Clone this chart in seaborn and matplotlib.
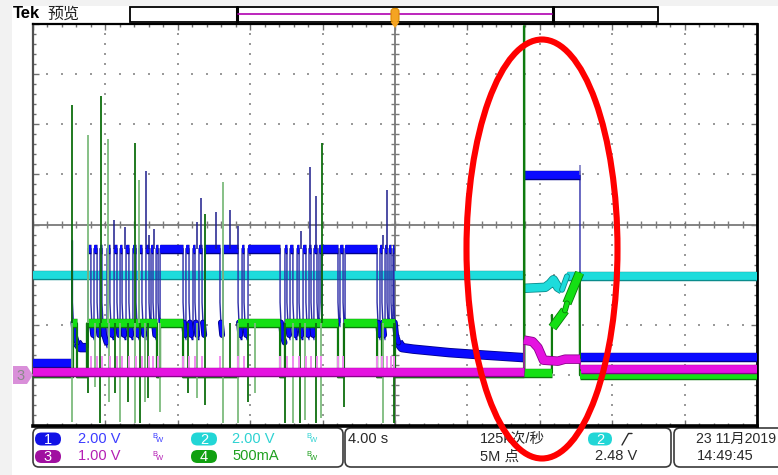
import numpy as np
import matplotlib
matplotlib.use("Agg")
import matplotlib.pyplot as plt
import seaborn as sns
from matplotlib.patches import Ellipse, FancyBboxPatch, Rectangle, Polygon
from matplotlib.collections import LineCollection
import matplotlib.patheffects as pe

# ---------------- data: time in s (4 s/div, trigger at 0), vertical in screen divisions ----------------
# CH1 (blue)
BLUE_PRE = -2.75
BLUE_HIGH = -0.48
BLUE_SPIKE0 = (-17.85, -0.32)
blue_rise = [-16.96, -16.63, -16.30, -15.91, -15.52, -15.19, -14.86, -14.48, -14.14, -13.76, -13.48, -13.20,
             -12.98, -11.55, -11.16, -10.83, -10.50, -9.50, -8.45, -8.12, -6.08, -5.80, -5.41, -5.08,
             -4.75, -4.48, -4.20, -4.03, -3.04, -2.76, -0.83, -0.55, -0.33, -0.11]
blue_fall = [-16.80, -16.46, -16.19, -15.75, -15.36, -15.08, -14.70, -14.31, -13.98, -13.59, -13.37, -13.09,
             -11.71, -11.38, -11.05, -10.66, -9.67, -8.67, -8.34, -6.35, -5.97, -5.64, -5.30, -4.92,
             -4.64, -4.31, -4.09, -3.15, -2.87, -0.99, -0.72, -0.44, -0.22, -0.06]
blue_tail_dt = [0.0, 0.05, 0.12, 0.25, 0.45]
blue_tail_v = [-1.55, -1.95, -2.2, -2.35, -2.45]
blue_post_t = [1.0, 3.0, 5.0, 7.13, 7.13, 10.22, 10.22, 20.0]
blue_post_v = [-2.48, -2.55, -2.6, -2.65, 0.98, 0.98, -2.63, -2.63]
blue_spk_t = [-15.52, -14.92, -13.77, -13.59, -13.31, -10.94, -10.72, -9.91, -9.12, -8.69,
              -5.21, -4.70, -4.36, -0.68, -0.44]
blue_spk_top = [0.08, -0.04, 1.07, -0.2, -0.08, 0.04, 0.52, 0.24, 0.28, -0.02,
                -0.12, 1.15, 0.56, -0.2, 0.68]
blue_evt_spk = (10.22, 0.98, 1.19)

# CH2 (cyan)
cyan_t = [-20.0, 7.13, 7.13, 8.3, 8.56, 8.75, 9.0, 9.23, 9.5, 20.0]
cyan_v = [-1.0, -1.0, -1.27, -1.25, -1.18, -1.1, -1.25, -1.3, -1.03, -1.03]

# CH3 (magenta)
mag_t = [-20.0, 7.13, 7.13, 7.6, 7.9, 8.2, 9.0, 9.4, 10.22, 10.25, 20.0]
mag_v = [-2.94, -2.94, -2.3, -2.33, -2.45, -2.7, -2.72, -2.68, -2.68, -2.87, -2.87]
MAG_SPK_TOP = -2.62

# CH4 (green)
GREEN_BASE = -3.04
GREEN_HIGH = -1.97
green_on = [-17.79, -17.02, -12.98, -8.67, -6.08, -2.82, -0.72]
green_off = [-17.57, -13.15, -11.71, -6.35, -3.15, -0.99, 0.0]
green_evt_t = [7.13, 7.13, 7.14, 8.67, 8.67, 8.70, 9.39, 9.50, 10.20, 10.22, 20.0]
green_evt_v = [-3.04, 3.95, -2.95, -2.95, -1.8, -2.05, -1.71, -1.57, -0.96, -3.0, -3.0]
green_up_t = [-17.85, -16.98, -16.24, -15.87, -14.38, -14.13, -10.50, -9.50, -4.03]
green_up_top = [2.37, 1.79, 2.55, 1.71, 1.63, 0.88, 0.2, 0.84, 1.63]
green_dn_t = [-17.83, -16.96, -16.57, -16.30, -15.80, -15.47, -15.19, -14.75, -14.36, -14.09, -13.81,
              -13.65, -12.98, -11.44, -10.94, -10.50, -9.50, -9.12, -8.67, -8.12, -7.73, -6.08, -5.64,
              -5.25, -4.97, -4.36, -4.09, -2.82, -0.66, -0.06]
green_dn_bot = [-3.94, -3.36, -3.24, -3.96, -3.54, -3.36, -3.94, -3.54, -3.96, -3.96, -3.54,
                -3.46, -3.74, -3.36, -3.46, -3.6, -3.96, -3.06, -3.96, -3.54, -3.36, -3.96, -3.96,
                -3.96, -3.9, -3.96, -3.86, -3.64, -3.96, -3.96]

# status bar texts
ch_labels = ["1", "2", "3", "4"]
ch_scales = ["2.00 V", "2.00 V", "1.00 V", "500mA"]
timebase = "4.00 s"
sample_rate = "125k次/秒"
record_len = "5M 点"
trig_ch = "2"
trig_level = "2.48 V"
date_str = "23 11月2019"
time_str = "14:49:45"

# ---------------- figure ----------------
sns.set_theme(style="white")
plt.rcParams["font.family"] = ["Liberation Sans", "Noto Sans CJK SC", "DejaVu Sans"]

W, H = 778, 475
fig = plt.figure(figsize=(W / 100, H / 100), dpi=100, facecolor="white")
bg = fig.add_axes([0, 0, 1, 1], zorder=0)
bg.set_xlim(0, W); bg.set_ylim(H, 0); bg.axis("off")
L, R, T, B = 33, 757, 23.5, 425.5
ax = fig.add_axes([L / W, 1 - B / H, (R - L) / W, (B - T) / H], zorder=1)
top = fig.add_axes([0, 0, 1, 1], zorder=2)
top.set_xlim(0, W); top.set_ylim(H, 0); top.axis("off")

bg.add_patch(Rectangle((0, 0), 12, H, color="#f2f2f2", lw=0))
bg.add_patch(Rectangle((0, 0), W, 6, color="#f2f2f2", lw=0))

# ---------------- graticule ----------------
ax.set_facecolor("white")
gx = np.arange(-20, 20.001, 0.8)
gy = np.arange(-4, 4.001, 0.2)
for xv in [-16, -12, -8, -4, 4, 8, 12, 16]:
    ax.scatter(np.full_like(gy, xv), gy, s=1.3, marker="s", color="#9a9a9a", lw=0, zorder=1)
for yv in [-3, -2, -1, 1, 2, 3]:
    ax.scatter(gx, np.full_like(gx, yv), s=1.3, marker="s", color="#9a9a9a", lw=0, zorder=1)
ax.axhline(0, color="#7a7a7a", lw=1.3, zorder=1)
ax.axvline(0, color="#7a7a7a", lw=1.3, zorder=1)
tk = [[(x, -0.07), (x, 0.07)] for x in gx] + [[(-0.2, y), (0.2, y)] for y in gy]
ax.add_collection(LineCollection(tk, colors="#7a7a7a", linewidths=1.0, zorder=1))

ax.set_xticks(np.arange(-20, 20.001, 4))
ax.set_xticks(gx, minor=True)
ax.set_yticks(np.arange(-4, 4.001, 1))
ax.set_yticks(gy, minor=True)
ax.tick_params(which="both", direction="in", top=True, right=True, bottom=True, left=True,
               colors="#707070", labelbottom=False, labelleft=False, width=1)
ax.tick_params(which="major", length=4)
ax.tick_params(which="minor", length=2.5)
for side, lw, c in [("top", 1.6, "black"), ("right", 2.0, "black"), ("bottom", 2.6, "black"), ("left", 1.6, "#505050")]:
    ax.spines[side].set_visible(True)
    ax.spines[side].set_linewidth(lw)
    ax.spines[side].set_color(c)


def draw_trace(t, v, main, edge, thin, z, thin_lw=1.0, thin_level=None, thin_until=None):
    t = np.asarray(t, float); v = np.asarray(v, float)
    sns.lineplot(x=t, y=v, sort=False, estimator=None, color=thin, linewidth=thin_lw, ax=ax,
                 zorder=z, legend=False)
    dt = np.diff(t); dv = np.diff(v)
    slope = np.abs(dv) / np.maximum(dt, 1e-9)
    keep = dt > 0
    if thin_level is not None:
        keep &= ~((v[:-1] == thin_level) & (v[1:] == thin_level) & (t[1:] <= thin_until))
    cls = np.zeros(len(dt), int)
    cls[(slope < 0.9) & keep] = 2
    cls[(slope >= 0.9) & (slope < 6) & keep] = 1
    for c, lw, cap in [(2, 5.6, "butt"), (1, 3.0, "round")]:
        runs = []
        i = 0
        while i < len(cls):
            if cls[i] == c:
                j = i
                while j + 1 < len(cls) and cls[j + 1] == c:
                    j += 1
                runs.append(np.column_stack([t[i:j + 2], v[i:j + 2]]))
                i = j + 1
            else:
                i += 1
        if runs:
            lc = LineCollection(runs, colors=main, linewidths=lw, capstyle=cap, joinstyle="round",
                                zorder=z + 0.1)
            lc.set_path_effects([pe.Stroke(linewidth=lw + 1.2, foreground=edge), pe.Normal()])
            ax.add_collection(lc)


# blue polyline from read pulse edges
bt = [-20.0, BLUE_SPIKE0[0], BLUE_SPIKE0[0], BLUE_SPIKE0[0] + 0.03]
bv = [BLUE_PRE, BLUE_PRE, BLUE_SPIKE0[1], BLUE_SPIKE0[1]]
last = BLUE_SPIKE0[0] + 0.03
for r, f in zip(blue_rise, blue_fall):
    for d, lv in zip(blue_tail_dt, blue_tail_v):
        if last + d < r:
            bt.append(last + d); bv.append(lv)
    bt += [r, r, f]; bv += [bv[-1], BLUE_HIGH, BLUE_HIGH]
    last = f
for d, lv in zip(blue_tail_dt, blue_tail_v):
    bt.append(last + d); bv.append(lv)
bt += blue_post_t; bv += blue_post_v

# green polyline
gt_ = [-20.0]; gv_ = [GREEN_BASE]
for a, b in zip(green_on, green_off):
    gt_ += [a, a, b, b]; gv_ += [GREEN_BASE, GREEN_HIGH, GREEN_HIGH, GREEN_BASE]
gt_ += green_evt_t; gv_ += green_evt_v

draw_trace(cyan_t, cyan_v, "#1ddcdc", "#0a8c8c", "#0a9a9a", 3)
draw_trace(bt, bv, "#0a0aff", "#00008a", "#2b2ba8", 4)
ax.vlines(blue_spk_t, BLUE_HIGH, blue_spk_top, colors="#1c1c8c", lw=1.1, zorder=4.5)
ax.vlines([blue_evt_spk[0]], blue_evt_spk[1], blue_evt_spk[2], colors="#7070c0", lw=1.1, zorder=4.5)
draw_trace(gt_, gv_, "#14e014", "#0a7a0a", "#0e7a0e", 5, thin_lw=1.6, thin_level=GREEN_BASE, thin_until=7.2)
cols = ["#0e6e0e", "#7dbb7d"]
ax.vlines(green_up_t, GREEN_HIGH, green_up_top, colors=[cols[i % 2] for i in range(len(green_up_t))],
          lw=1.3, zorder=5.5)
ax.vlines(green_dn_t, GREEN_HIGH, green_dn_bot, colors=[cols[(i + 1) % 2] for i in range(len(green_dn_t))],
          lw=1.3, zorder=5.5)
ax.vlines(blue_fall, -2.94, MAG_SPK_TOP, colors="#f08cf0", lw=1.4, zorder=6)
draw_trace(mag_t, mag_v, "#e512e0", "#8a008a", "#c010c0", 6.5)

ax.set_xlim(-20, 20)
ax.set_ylim(-4, 4)
ax.set_xlabel(""); ax.set_ylabel("")

# ---------------- header ----------------
top.text(13, 14, "Tek", fontsize=12, fontweight="bold", va="center", ha="left", color="black")
top.text(47, 14.5, "预览", fontsize=11.5, va="center", ha="left", color="#222222")
top.add_patch(Rectangle((130, 6.5), 528, 15.5, fc="white", ec="black", lw=1.3, zorder=1))
top.plot([237, 237], [7, 22], color="black", lw=2.2, zorder=2)
top.plot([553, 553], [7, 22], color="black", lw=2.2, zorder=2)
top.plot([238, 552], [14.3, 14.3], color="#b000b0", lw=1.2, zorder=2)
top.add_patch(FancyBboxPatch((391, 8.5), 8, 14, boxstyle="round,pad=0,rounding_size=3",
                             fc="#f5a422", ec="#d88a00", lw=0.8, zorder=3))
top.add_patch(Polygon([(390.5, 22), (399.5, 22), (395, 28)], closed=True, fc="#f5a422", ec="none", zorder=3))

# ch3 ground marker
top.add_patch(Polygon([(13, 366), (27, 366), (33, 375), (27, 384), (13, 384)], closed=True,
                      fc="#d98fd9", ec="none", zorder=3))
top.text(20.5, 375.5, "3", fontsize=10.5, color="#8a8a8a", ha="center", va="center", zorder=4)

# ---------------- status bar ----------------
def rbox(x0, y0, x1, y1):
    bg.add_patch(FancyBboxPatch((x0, y0), x1 - x0, y1 - y0, boxstyle="round,pad=0,rounding_size=6",
                                fc="white", ec="#3a3a3a", lw=1.2))


def badge(cx, cy, num, color, w=26):
    bg.add_patch(FancyBboxPatch((cx - w / 2, cy - 6.5), w, 13, boxstyle="round,pad=0,rounding_size=6.5",
                                fc=color, ec="none"))
    bg.text(cx, cy + 0.5, num, color="white", fontsize=10.5, ha="center", va="center")


def bw(x, y, c):
    bg.text(x, y - 2, "B", fontsize=5.5, color=c, ha="left", va="center")
    bg.text(x + 3.8, y + 1.8, "W", fontsize=5.5, color=c, ha="left", va="center")


rbox(33, 428, 343, 467)
rbox(345, 428, 671, 467)
rbox(674, 428, 792, 467)
y1, y2 = 439, 456.5
badge_cols = ["#1212e6", "#22d6d6", "#a010a0", "#10a010"]
text_cols = ["#3c3cff", "#2ed2d2", "#b41eb4", "#1ea01e"]
pos = [(48, 78, 152, y1), (204, 232, 306, y1), (48, 78, 152, y2), (204, 232, 306, y2)]
for i, (bx, tx, wx, yy) in enumerate(pos):
    badge(bx, yy, ch_labels[i], badge_cols[i])
    bg.text(tx, yy, ch_scales[i], fontsize=10.5, color=text_cols[i], ha="left", va="center")
    bw(wx, yy, text_cols[i])

tc = "#2a2a2a"
bg.text(348, y1, timebase, fontsize=10.5, color=tc, ha="left", va="center")
bg.text(480, y1, sample_rate, fontsize=10.5, color=tc, ha="left", va="center")
bg.text(480, y2, record_len, fontsize=10.5, color=tc, ha="left", va="center")
badge(600, y1, trig_ch, "#22d6d6", w=24)
bg.plot([622, 628.5, 632], [445, 433.5, 433.5], color=tc, lw=1.0)
bg.text(595, y2, trig_level, fontsize=10.5, color=tc, ha="left", va="center")
bg.text(696, y1, date_str, fontsize=10.2, color=tc, ha="left", va="center")
bg.text(697, y2, time_str, fontsize=10.5, color=tc, ha="left", va="center")

# ---------------- red annotation ellipse ----------------
top.add_patch(Ellipse((542, 249), 151, 419, fill=False, ec="#ff0000", lw=4.4, zorder=10))

fig.savefig("out.png", dpi=100, facecolor="white")
